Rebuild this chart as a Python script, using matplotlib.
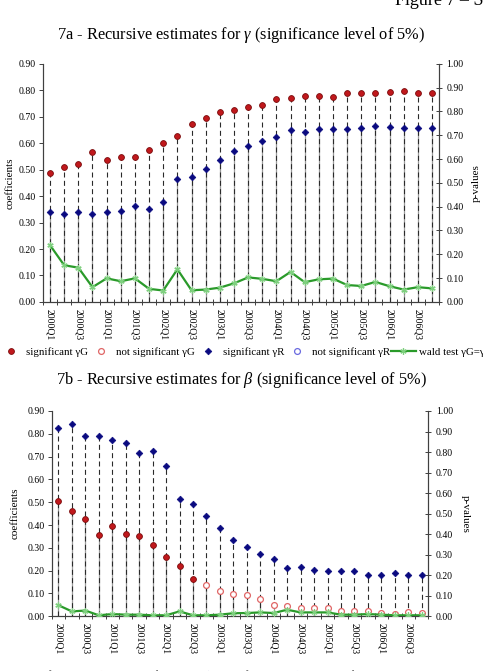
import matplotlib
matplotlib.use('Agg')
import matplotlib.pyplot as plt
from matplotlib.lines import Line2D
from matplotlib.ticker import FormatStrFormatter, FixedLocator
import numpy as np

quarters = ['2000Q1', '2000Q2', '2000Q3', '2000Q4', '2001Q1', '2001Q2', '2001Q3', '2001Q4',
            '2002Q1', '2002Q2', '2002Q3', '2002Q4', '2003Q1', '2003Q2', '2003Q3', '2003Q4',
            '2004Q1', '2004Q2', '2004Q3', '2004Q4', '2005Q1', '2005Q2', '2005Q3', '2005Q4',
            '2006Q1', '2006Q2', '2006Q3', '2006Q4']
tick_labels = ['2000Q1', '2000Q3', '2001Q1', '2001Q3', '2002Q1', '2002Q3', '2003Q1',
               '2003Q3', '2004Q1', '2004Q3', '2005Q1', '2005Q3', '2006Q1', '2006Q3']

# 7a - gamma
gamma_G = [0.489, 0.508, 0.521, 0.565, 0.537, 0.546, 0.548, 0.575, 0.602, 0.628, 0.674, 0.696,
           0.716, 0.727, 0.735, 0.746, 0.765, 0.771, 0.778, 0.778, 0.774, 0.788, 0.788, 0.788,
           0.794, 0.797, 0.790, 0.790]
gamma_R = [0.340, 0.332, 0.340, 0.333, 0.340, 0.345, 0.363, 0.353, 0.376, 0.463, 0.471, 0.504,
           0.536, 0.570, 0.591, 0.609, 0.624, 0.648, 0.642, 0.652, 0.655, 0.655, 0.658, 0.664,
           0.662, 0.658, 0.658, 0.658]
gamma_wald = [0.238, 0.154, 0.144, 0.062, 0.099, 0.087, 0.099, 0.055, 0.048, 0.137, 0.049, 0.052,
              0.060, 0.078, 0.103, 0.097, 0.087, 0.126, 0.083, 0.095, 0.098, 0.071, 0.067, 0.084,
              0.066, 0.052, 0.062, 0.057]
gamma_G_sig = [True] * 28
gamma_R_sig = [True] * 28

# 7b - beta
beta_G = [0.506, 0.460, 0.425, 0.355, 0.394, 0.362, 0.354, 0.311, 0.259, 0.221, 0.165, 0.137,
          0.113, 0.099, 0.092, 0.075, 0.051, 0.047, 0.038, 0.035, 0.038, 0.023, 0.023, 0.023,
          0.013, 0.010, 0.018, 0.016]
beta_G_sig = [True] * 11 + [False] * 17
beta_R = [0.824, 0.845, 0.792, 0.792, 0.774, 0.758, 0.716, 0.723, 0.659, 0.514, 0.492, 0.440,
          0.389, 0.336, 0.305, 0.275, 0.251, 0.210, 0.218, 0.203, 0.200, 0.197, 0.197, 0.180,
          0.183, 0.188, 0.183, 0.183]
beta_R_sig = [True] * 28
beta_wald = [0.054, 0.024, 0.028, 0.005, 0.011, 0.008, 0.008, 0.005, 0.005, 0.024, 0.005, 0.005,
             0.008, 0.015, 0.016, 0.019, 0.016, 0.032, 0.019, 0.019, 0.019, 0.008, 0.008, 0.011,
             0.008, 0.005, 0.005, 0.005]

legend_labels = ['significant \u03b3G', 'not significant \u03b3G', 'significant \u03b3R',
                 'not significant \u03b3R', 'wald test \u03b3G=\u03b3R']

plt.rcParams['font.family'] = ['Liberation Serif', 'DejaVu Serif']
plt.rcParams['mathtext.fontset'] = 'custom'
plt.rcParams['mathtext.rm'] = 'Liberation Serif'
plt.rcParams['mathtext.it'] = 'Liberation Serif:italic'

RED_FACE = '#c0181c'
RED_EDGE = '#7a0c0c'
RED_OPEN = '#e06666'
BLUE = '#0a0a80'
BLUE_OPEN = '#6a6ae0'
GREEN = '#2a9a2a'
GREEN_M = '#7fd07f'
AXC = '#404040'
TICK_FS = 7

fig = plt.figure(figsize=(4.83, 6.71), dpi=100)


def draw_marks(ax, x, vals, sig, kind):
    vals = np.asarray(vals)
    sig = np.asarray(sig)
    if kind == 'G':
        ax.plot(x[sig], vals[sig], 'o', ms=4.2, mfc=RED_FACE, mec=RED_EDGE, mew=0.6, zorder=5)
        ax.plot(x[~sig], vals[~sig], 'o', ms=4.2, mfc='white', mec=RED_OPEN, mew=0.9, zorder=5)
    else:
        ax.plot(x[sig], vals[sig], 'D', ms=3.4, mfc=BLUE, mec=BLUE, mew=0.5, zorder=5)
        ax.plot(x[~sig], vals[~sig], 'o', ms=4.2, mfc='white', mec=BLUE_OPEN, mew=0.9, zorder=5)


def panel(rect, G, Gsig, R, Rsig, wald, title, title_y, plab_rot, plab_x, clab_x):
    ax = fig.add_axes(rect)
    x = np.arange(len(quarters))
    upper = np.maximum(G, R)
    lower = np.minimum(G, R)
    ax.vlines(x, 0, lower, colors='#9a9a9a', lw=0.9, zorder=1)
    ax.vlines(x, 0, upper, colors='#2a2a2a', lw=0.8, linestyles=(0, (4.5, 3)), zorder=2)
    draw_marks(ax, x, G, Gsig, 'G')
    draw_marks(ax, x, R, Rsig, 'R')
    ax.set_xlim(-0.5, len(quarters) - 0.5)
    ax.set_ylim(0, 0.9)
    ax.set_yticks(np.round(np.arange(0, 0.91, 0.1), 2))
    ax.yaxis.set_major_formatter(FormatStrFormatter('%.2f'))
    ax.set_xticks([quarters.index(t) for t in tick_labels])
    ax.set_xticklabels(tick_labels, rotation=-90, fontsize=TICK_FS)
    ax.xaxis.set_minor_locator(FixedLocator(np.arange(-0.5, len(quarters), 1.0)))
    ax.tick_params(axis='x', which='major', length=0, pad=5)
    ax.tick_params(axis='x', which='minor', length=4, direction='inout', width=0.7, color=AXC)
    ax.tick_params(axis='y', labelsize=TICK_FS, length=3, width=0.7, color=AXC, pad=2)
    for s in ['left', 'bottom', 'right']:
        ax.spines[s].set_color(AXC)
        ax.spines[s].set_linewidth(0.8)
    ax.spines['top'].set_visible(False)

    ax2 = ax.twinx()
    ax2.plot(x, wald, color=GREEN, lw=1.6, marker=(6, 2, 0), ms=4.5, mec=GREEN_M, mew=0.9, zorder=6)
    ax2.set_ylim(0, 1.0)
    ax2.set_yticks(np.round(np.arange(0, 1.01, 0.1), 2))
    ax2.yaxis.set_major_formatter(FormatStrFormatter('%.2f'))
    ax2.tick_params(axis='y', labelsize=TICK_FS, length=5, direction='inout', width=0.7, color=AXC, pad=3)
    for s in ['left', 'bottom', 'right']:
        ax2.spines[s].set_color(AXC)
        ax2.spines[s].set_linewidth(0.8)
    ax2.spines['top'].set_visible(False)

    ymid = rect[1] + rect[3] / 2
    fig.text(clab_x, ymid, 'coefficients', rotation=90, ha='center', va='center', fontsize=8)
    fig.text(plab_x, ymid, 'p-values', rotation=plab_rot, ha='center', va='center', fontsize=8)
    fig.text(0.5, title_y, title, ha='center', va='center', fontsize=11.8)
    return ax


panel([0.089, 0.550, 0.820, 0.355], gamma_G, gamma_G_sig, gamma_R, gamma_R_sig, gamma_wald,
      '7a - Recursive estimates for $\\mathit{\\gamma}$ (significance level of 5%)', 0.948, 90, 0.986, 0.021)
panel([0.107, 0.0815, 0.780, 0.306], beta_G, beta_G_sig, beta_R, beta_R_sig, beta_wald,
      '7b - Recursive estimates for $\\mathit{\\beta}$ (significance level of 5%)', 0.434, 270, 0.963, 0.031)

fig.text(0.818, 0.9925, 'Figure 7 \u2013 S', fontsize=13, ha='left', va='baseline')

handles = [
    Line2D([], [], ls='none', marker='o', ms=4.2, mfc=RED_FACE, mec=RED_EDGE, mew=0.6),
    Line2D([], [], ls='none', marker='o', ms=4.2, mfc='white', mec=RED_OPEN, mew=0.9),
    Line2D([], [], ls='none', marker='D', ms=3.4, mfc=BLUE, mec=BLUE, mew=0.5),
    Line2D([], [], ls='none', marker='o', ms=4.2, mfc='white', mec=BLUE_OPEN, mew=0.9),
    Line2D([], [], color=GREEN, lw=1.6, marker=(6, 2, 0), ms=4.5, mec=GREEN_M, mew=0.9),
]
for ly in [0.475, -0.0055]:
    fig.legend(handles, legend_labels, loc='center left', bbox_to_anchor=(-0.004, ly),
               ncol=5, frameon=False, fontsize=7.8, handlelength=2.3, handletextpad=0.25,
               columnspacing=0.05, borderaxespad=0, borderpad=0, markerscale=1.0)

fig.savefig('out.png', dpi=100)
